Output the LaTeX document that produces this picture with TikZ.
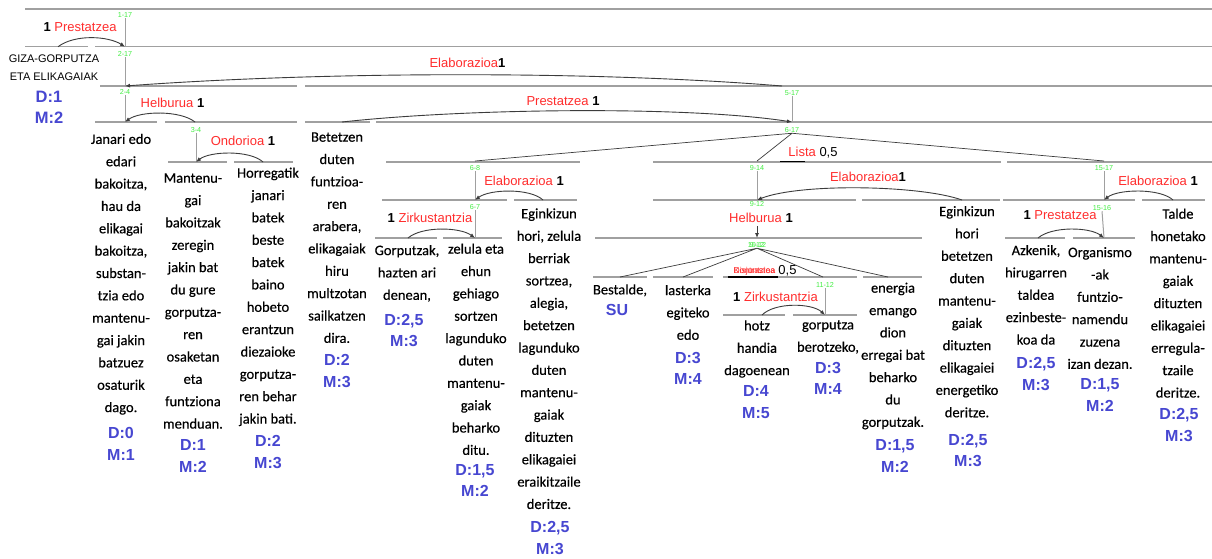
\documentclass[tikz,border=0pt]{standalone}
\usepackage{fontspec}
\setmainfont{Carlito}
\newfontfamily\arialfont{Liberation Sans}
\newfontfamily\edufont{Carlito}[FakeBold=0.35]
\usetikzlibrary{arrows.meta}
\definecolor{relred}{HTML}{FF2D2D}
\definecolor{spangreen}{HTML}{44EE44}
\definecolor{dmblue}{HTML}{4747D1}
\definecolor{spangray}{HTML}{A0A0A0}
\definecolor{arcgray}{HTML}{3C3C3C}
\tikzstyle{spanline} = [draw=spangray, line width=1.3pt]
\tikzstyle{treeline} = [draw=spangray, line width=1pt]
\tikzstyle{relarc} = [draw=arcgray, line width=0.9pt, -{Latex[length=5pt,width=4pt]}]
\tikzstyle{fanline} = [draw=arcgray, line width=0.7pt]
\tikzstyle{multibar} = [draw=black, line width=1.6pt]
\tikzstyle{rel} = [font=\arialfont\fontsize{13}{15}\selectfont, text=relred,
    inner sep=0pt, anchor=base, yshift=-4.6pt]
\tikzstyle{spanlbl} = [font=\arialfont\fontsize{7.2}{8}\selectfont, text=spangreen, inner sep=0.5pt]
\tikzstyle{edu} = [font=\edufont\fontsize{14.5}{22.35}\selectfont, align=center,
    anchor=north, inner sep=0pt, yshift=11.45pt]
\tikzstyle{dm} = [font=\arialfont\bfseries\fontsize{16}{21.5}\selectfont, text=dmblue,
    align=center, anchor=north, inner sep=0pt, yshift=9.32pt]
\newcommand{\wt}[1]{\textcolor{black}{\bfseries #1}}
\newcommand{\val}[1]{\textcolor{black}{#1}}

\begin{document}
\begin{tikzpicture}[x=1pt,y=-1pt]
\useasboundingbox[fill=white] (0,0) rectangle (1212,558);

% spans, one row per depth
\draw[spanline] (25,9) -- (1212,9);
\draw[spanline] (25,46.7) -- (88,46.7) (95,46.7) -- (1212,46.7);
\draw[spanline] (100,86) -- (297,86) (305,86) -- (1212,86);
\draw[spanline] (95,122) -- (157,122) (165,122) -- (297,122) (305,122) -- (370,122) (376,122) -- (1212,122);
\draw[spanline] (168,162) -- (227,162) (234,162) -- (293,162) (386,162) -- (580,162)
    (653,162) -- (1001,162) (1007,162) -- (1212,162);
\draw[spanline] (382,200) -- (507,200) (514,200) -- (577,200) (653,200) -- (856,200)
    (862,200) -- (1000,200) (1003,200) -- (1135,200) (1142,200) -- (1205,200);
\draw[spanline] (375,238) -- (437,238) (443,238) -- (502,238) (595,238) -- (922,238)
    (1005,238) -- (1065,238) (1073,238) -- (1135,238);
\draw[spanline] (593,277) -- (647,277) (653,277) -- (713,277) (723,277) -- (857,277) (863,277) -- (922,277);
\draw[spanline] (723,315) -- (785,315) (793,315) -- (857,315);

% span numbers
\node[spanlbl] (l1-17) at (125,15) {1-17};
\node[spanlbl] (l2-17) at (125,54) {2-17};
\node[spanlbl] (l2-4) at (125,92) {2-4};
\node[spanlbl] (l3-4) at (196,130) {3-4};
\node[spanlbl] (l5-17) at (792,93) {5-17};
\node[spanlbl] (l6-17) at (792,130) {6-17};
\node[spanlbl] (l6-8) at (475,168) {6-8};
\node[spanlbl] (l6-7) at (475,207) {6-7};
\node[spanlbl] (l9-14) at (757,168) {9-14};
\node[spanlbl] (l9-12) at (757,204) {9-12};
\node[spanlbl] (l9-12b) at (757,245) {9-12};
\node[spanlbl] (l10-12) at (757,245) {10-12};
\node[spanlbl] (l11-12) at (825,285) {11-12};
\node[spanlbl] (l15-17) at (1104,168) {15-17};
\node[spanlbl] (l15-16) at (1102,208) {15-16};

% points on the spans
\coordinate (b1-17) at (125,46.7);
\coordinate (b2-17) at (125,86);
\coordinate (b2-4) at (125,122);
\coordinate (b3-4) at (196,162);
\coordinate (b5-17) at (792,122);
\coordinate (b6-8) at (475,200);
\coordinate (b6-7) at (475,238);
\coordinate (b9-14) at (757,200);
\coordinate (b9-13) at (757,238);
\coordinate (h9-12) at (757,226);
\coordinate (b11-12) at (825,315);
\coordinate (b15-17) at (1104,200);
\coordinate (b15-16) at (1104,238);

\draw[treeline] (l1-17.south) -- (b1-17);
\draw[treeline] (l2-17.south) -- (b2-17);
\draw[treeline] (l2-4.south) -- (b2-4);
\draw[treeline] (l3-4.south) -- (b3-4);
\draw[treeline] (l5-17.south) -- (b5-17);
\draw[treeline] (l6-8.south) -- (b6-8);
\draw[treeline] (l6-7.south) -- (b6-7);
\draw[treeline] (l9-14.south) -- (b9-14);
\draw[treeline] (l11-12.south) -- (b11-12);
\draw[treeline] (l15-17.south) -- (b15-17);
\draw[treeline] (l15-16.south) -- (b15-16);

% multinuclear fans
\coordinate (t6-8) at (475,161);
\coordinate (t9-14) at (757,161);
\coordinate (t15-17) at (1104,161);
\draw[fanline] (l6-17.south) -- (t6-8) (l6-17.south) -- (t9-14) (l6-17.south) -- (t15-17);
\coordinate (t9) at (620,277);
\coordinate (t10) at (683,277);
\coordinate (t11-12) at (823,277);
\coordinate (t13) at (888,277);
\draw[fanline] (l10-12.south) -- (t9) (l10-12.south) -- (t10) (l10-12.south) -- (t11-12) (l10-12.south) -- (t13);
\draw[multibar] (780,161.5) -- (805,161.5);
\draw[multibar] (728,277) -- (778,277);

% satellite arcs
\coordinate (s1) at (58,46.7);
\coordinate (s5-17) at (782,86);
\coordinate (s3-4) at (195,122);
\coordinate (s4) at (263,162);
\coordinate (s5) at (342,122);
\coordinate (s8) at (543,200);
\coordinate (s6) at (408,238);
\coordinate (s14) at (962,200);
\coordinate (s11) at (762,315);
\coordinate (s17) at (1173,200);
\coordinate (s15) at (1038,238);
\draw[relarc] (s1) .. controls (75,34) and (108,36) .. (b1-17);
\draw[relarc] (s5-17) .. controls (600,71) and (330,71) .. (b2-17);
\draw[relarc] (s3-4) .. controls (180,110) and (140,111) .. (b2-4);
\draw[relarc] (s4) .. controls (250,150) and (210,151) .. (b3-4);
\draw[relarc] (s5) .. controls (470,108) and (690,106) .. (b5-17);
\draw[relarc] (s8) .. controls (530,188) and (490,189) .. (b6-8);
\draw[relarc] (s6) .. controls (422,226) and (460,227) .. (b6-7);
\draw[relarc] (s14) .. controls (920,185) and (800,183) .. (b9-14);
\draw[relarc] (h9-12) -- (b9-13);
\draw[relarc] (s11) .. controls (775,302) and (812,303) .. (b11-12);
\draw[relarc] (s17) .. controls (1160,188) and (1118,189) .. (b15-17);
\draw[relarc] (s15) .. controls (1052,226) and (1090,227) .. (b15-16);

% relation names
\node[rel] (r1-17) at (80,26.7) {\wt{1} Prestatzea};
\node[rel] (r2-17) at (467.5,63.3) {Elaborazioa\wt{1}};
\node[rel] (r2-4) at (172.5,103.3) {Helburua \wt{1}};
\node[rel] (r3-4) at (243,141) {Ondorioa \wt{1}};
\node[rel] (r5-17) at (563,101.3) {Prestatzea \wt{1}};
\node[rel] (r6-17) at (813,152) {Lista \val{0,5}};
\node[rel] (r6-8) at (524,181) {Elaborazioa \wt{1}};
\node[rel] (r6-7) at (430,218.3) {\wt{1} Zirkustantzia};
\node[rel] (r9-14) at (868,177.3) {Elaborazioa\wt{1}};
\node[rel] (r9-12) at (761,218.3) {Helburua \wt{1}};
\node[rel, font=\arialfont\fontsize{8.5}{10}\selectfont, yshift=1.5pt] (r10-12a) at (754.5,270) {Disjuntzioa};
\node[rel, font=\arialfont\fontsize{8.5}{10}\selectfont, yshift=1.5pt] (r10-12b) at (754.5,270) {Kontrastea};
\node[rel, text=black] (w10-12) at (787.5,270) {0,5};
\node[rel] (r11-12) at (775.5,296.7) {\wt{1} Zirkustantzia};
\node[rel] (r15-17) at (1158,181) {Elaborazioa \wt{1}};
\node[rel] (r15-16) at (1060,215) {\wt{1} Prestatzea};

% title and text segments
\node[font=\arialfont\fontsize{11}{17.7}\selectfont, align=center, anchor=north, inner sep=0pt]
    (title) at (54,49.9) {\strut GIZA-GORPUTZA\\ETA ELIKAGAIAK};
\node[dm, font=\arialfont\bfseries\fontsize{16.5}{21}\selectfont] (dm1) at (49,97.3) {\strut D:1\\M:2};

\node[edu] (c2) at (121,139.5) {\strut Janari edo\\edari\\bakoitza,\\hau da\\elikagai\\bakoitza,\\substan-\\tzia edo\\mantenu-\\gai jakin\\batzuez\\osaturik\\dago.};
\node[dm] (dm2) at (121,432.7) {\strut D:0\\M:1};
\node[edu] (c3) at (193,178.3) {\strut Mantenu-\\gai\\bakoitzak\\zeregin\\jakin bat\\du gure\\gorputza-\\ren\\osaketan\\eta\\funtziona\\menduan.};
\node[dm] (dm3) at (193,445) {\strut D:1\\M:2};
\node[edu] (c4) at (268,173.3) {\strut Horregatik\\janari\\batek\\beste\\batek\\baino\\hobeto\\erantzun\\diezaioke\\gorputza-\\ren behar\\jakin bati.};
\node[dm] (dm4) at (268,440.7) {\strut D:2\\M:3};
\node[edu] (c5) at (337,137.3) {\strut Betetzen\\duten\\funtzioa-\\ren\\arabera,\\elikagaiak\\hiru\\multzotan\\sailkatzen\\dira.};
\node[dm] (dm5) at (337,360) {\strut D:2\\M:3};
\node[edu] (c6) at (407,250.7) {\strut Gorputzak,\\hazten ari\\denean,};
\node[dm] (dm6) at (404,319.3) {\strut D:2,5\\M:3};
\node[edu] (c7) at (476,249.3) {\strut zelula eta\\ehun\\gehiago\\sortzen\\lagunduko\\duten\\mantenu-\\gaiak\\beharko\\ditu.};
\node[dm] (dm7) at (475,469.3) {\strut D:1,5\\M:2};
\node[edu] (c8) at (549,214) {\strut Eginkizun\\hori, zelula\\berriak\\sortzea,\\alegia,\\betetzen\\lagunduko\\duten\\mantenu-\\gaiak\\dituzten\\elikagaiei\\eraikitzaile\\deritze.};
\node[dm] (dm8) at (550,526.7) {\strut D:2,5\\M:3};
\node[edu] (c9) at (620,290) {\strut Bestalde,};
\node[dm] (dm9) at (617,310) {\strut SU};
\node[edu] (c10) at (688,290.7) {\strut lasterka\\egiteko\\edo};
\node[dm] (dm10) at (688,357.3) {\strut D:3\\M:4};
\node[edu] (c11) at (757,326) {\strut hotz\\handia\\dagoenean};
\node[dm] (dm11) at (756,390.7) {\strut D:4\\M:5};
\node[edu] (c12) at (828,325) {\strut gorputza\\berotzeko,};
\node[dm] (dm12) at (828,367.3) {\strut D:3\\M:4};
\node[edu] (c13) at (893,288.3) {\strut energia\\emango\\dion\\erregai bat\\beharko\\du\\gorputzak.};
\node[dm] (dm13) at (895,445) {\strut D:1,5\\M:2};
\node[edu] (c14) at (967,211.7) {\strut Eginkizun\\hori\\betetzen\\duten\\mantenu-\\gaiak\\dituzten\\elikagaiei\\energetiko\\deritze.};
\node[dm] (dm14) at (968,439.3) {\strut D:2,5\\M:3};
\node[edu] (c15) at (1036,250.7) {\strut Azkenik,\\hirugarren\\taldea\\ezinbeste-\\koa da};
\node[dm] (dm15) at (1036,362.7) {\strut D:2,5\\M:3};
\node[edu] (c16) at (1100,252.7) {\strut Organismo\\-ak\\funtzio-\\namendu\\zuzena\\izan dezan.};
\node[dm] (dm16) at (1100,384) {\strut D:1,5\\M:2};
\node[edu] (c17) at (1178,214.3) {\strut Talde\\honetako\\mantenu-\\gaiak\\dituzten\\elikagaiei\\erregula-\\tzaile\\deritze.};
\node[dm] (dm17) at (1179,414) {\strut D:2,5\\M:3};
\end{tikzpicture}
\end{document}
